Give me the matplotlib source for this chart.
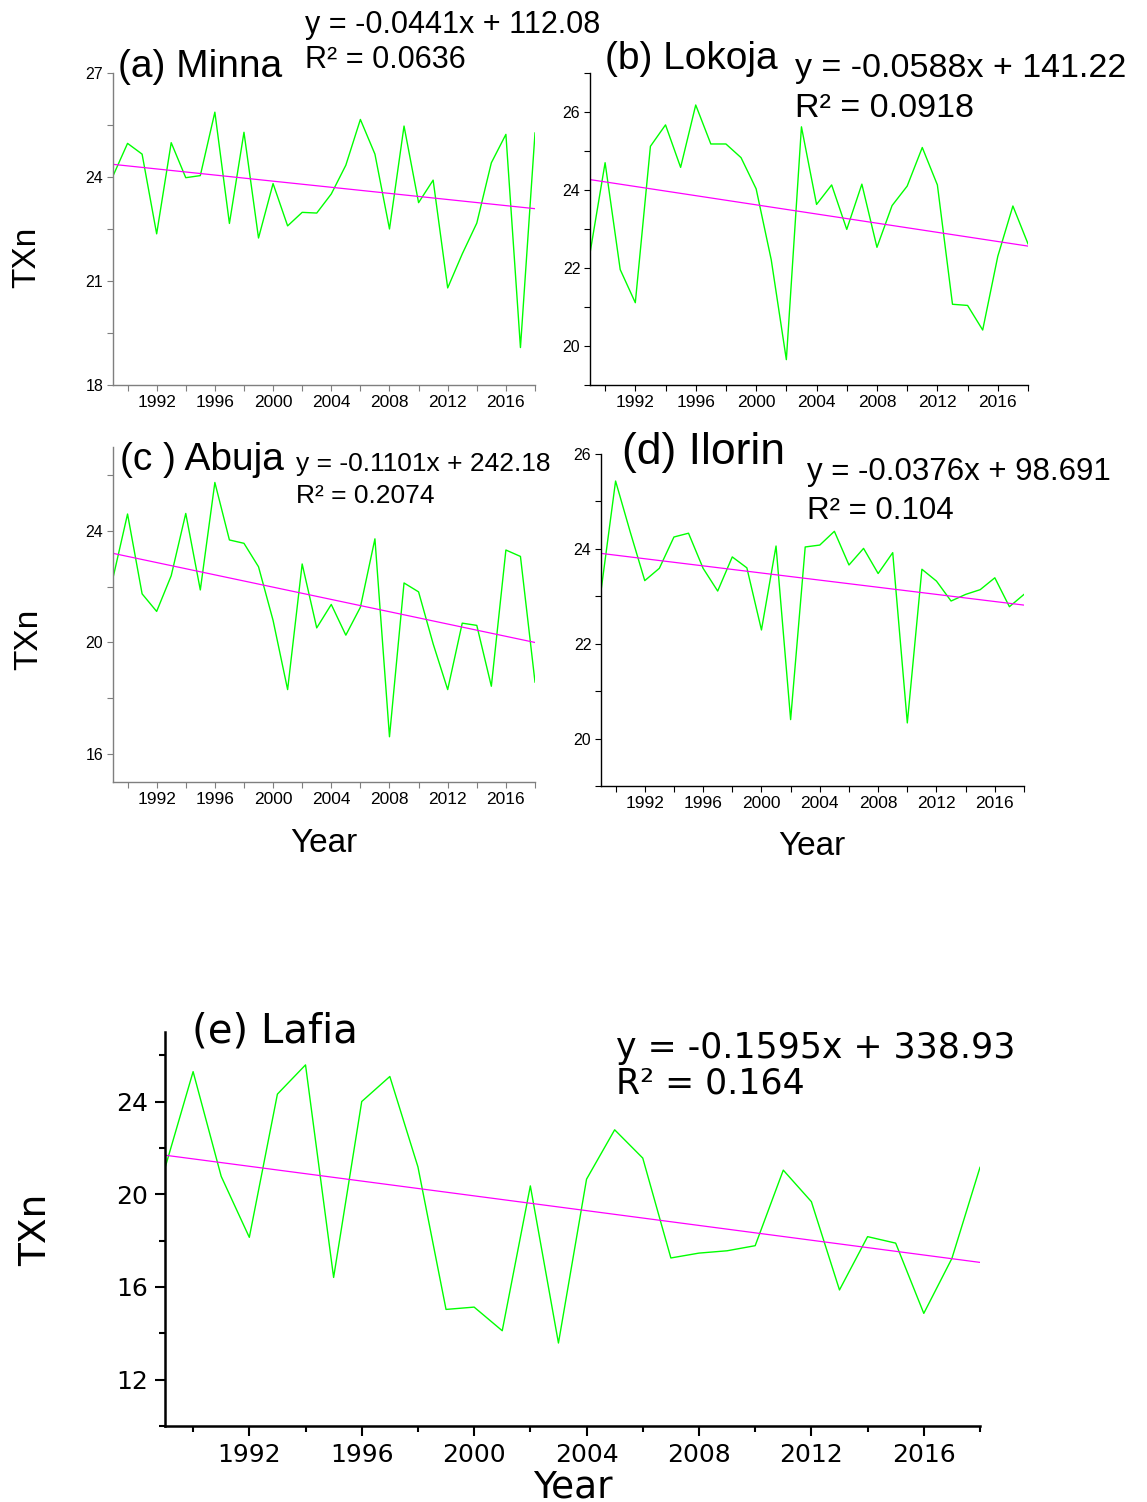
import numpy as np
import matplotlib
matplotlib.use("Agg")
import matplotlib.pyplot as plt
from matplotlib.ticker import MultipleLocator

# Years 1989-2018
years = np.arange(1989, 2019)

# TXn values
minna = [24.03, 24.97, 24.66, 22.36, 24.99, 23.98, 24.04, 25.87, 22.66, 25.29,
         22.24, 23.81, 22.59, 22.98, 22.96, 23.51, 24.34, 25.66, 24.66, 22.50,
         25.47, 23.26, 23.91, 20.80, 21.78, 22.67, 24.41, 25.23, 19.08, 25.27]
lokoja = [22.38, 24.70, 21.96, 21.11, 25.12, 25.67, 24.58, 26.18, 25.18, 25.18,
          24.83, 24.03, 22.21, 19.65, 25.62, 23.63, 24.13, 22.99, 24.15, 22.53,
          23.60, 24.10, 25.09, 24.13, 21.07, 21.04, 20.41, 22.30, 23.59, 22.62]
abuja = [22.31, 24.60, 21.74, 21.11, 22.39, 24.62, 21.88, 25.73, 23.67, 23.55,
         22.71, 20.79, 18.31, 22.81, 20.52, 21.36, 20.26, 21.26, 23.71, 16.62,
         22.13, 21.81, 19.95, 18.31, 20.69, 20.61, 18.43, 23.31, 23.08, 18.58]
ilorin = [23.11, 25.43, 24.36, 23.33, 23.59, 24.25, 24.33, 23.59, 23.11, 23.83,
          23.60, 22.29, 24.06, 20.40, 24.04, 24.08, 24.37, 23.66, 24.01, 23.48,
          23.92, 20.33, 23.57, 23.32, 22.90, 23.04, 23.14, 23.39, 22.78, 23.04]
lafia = [21.13, 25.29, 20.77, 18.14, 24.32, 25.58, 16.41, 24.00, 25.08, 21.18,
         15.03, 15.13, 14.11, 20.36, 13.58, 20.65, 22.78, 21.56, 17.25, 17.46,
         17.56, 17.78, 21.04, 19.68, 15.87, 18.17, 17.89, 14.86, 17.23, 21.16]

# linear trend coefficients as printed on the chart
slopes = [-0.0441, -0.0588, -0.1101, -0.0376, -0.1595]
intercepts = [112.08, 141.22, 242.18, 98.691, 338.93]
r2_text = ["0.0636", "0.0918", "0.2074", "0.104", "0.164"]
titles = ["(a) Minna", "(b) Lokoja", "(c ) Abuja", "(d) Ilorin", "(e) Lafia"]

W, H = 1147, 1502
fig = plt.figure(figsize=(W / 100, H / 100), dpi=100)


def box(l, t, r, b):
    return [l / W, 1 - b / H, (r - l) / W, (b - t) / H]


def ftext(x, y, s, **kw):
    fig.text(x / W, 1 - y / H, s, **kw)


GREEN = "#00ff00"
MAGENTA = "#ff00ff"
ARIAL = "Liberation Sans"
WIDE = "DejaVu Sans"

# panel settings: box, ylim, major step, minor step, spine color
panels = [
    (box(113, 73, 535, 385), minna, (18, 27), 3, 1.5, "#7f7f7f"),
    (box(590, 73, 1028, 385), lokoja, (19, 27), 2, 1, "black"),
    (box(113, 447, 535, 782), abuja, (15, 27), 4, 2, "#7f7f7f"),
    (box(601, 454, 1024, 786), ilorin, (19, 26), 2, 1, "black"),
]

for i, (pos, vals, ylim, major, minor, col) in enumerate(panels):
    ax = fig.add_axes(pos)
    ax.plot(years, vals, color=GREEN, lw=1.0)
    ax.plot(years, slopes[i] * years + intercepts[i], color=MAGENTA, lw=0.9)
    ax.set_xlim(1989, 2018)
    ax.set_ylim(*ylim)
    ax.xaxis.set_minor_locator(MultipleLocator(2))
    ax.set_xticks(np.arange(1992, 2017, 4))
    ax.yaxis.set_major_locator(MultipleLocator(major))
    ax.yaxis.set_minor_locator(MultipleLocator(minor))
    for s in ["top", "right"]:
        ax.spines[s].set_visible(False)
    for s in ["left", "bottom"]:
        ax.spines[s].set_color(col)
        ax.spines[s].set_linewidth(1.0)
    ax.tick_params(which="both", direction="out", length=4, width=0.8, color=col)
    ax.tick_params(axis="x", labelsize=12.5, pad=3)
    ax.tick_params(axis="y", labelsize=11.5, pad=3)
    for lab in ax.get_xticklabels() + ax.get_yticklabels():
        lab.set_family(ARIAL)

# titles and equations, panels a-d
ftext(118, 77, titles[0], fontsize=28, family=ARIAL, va="baseline")
ftext(305, 33, "y = %.4fx + %.2f" % (slopes[0], intercepts[0]), fontsize=22, family=ARIAL, va="baseline")
ftext(305, 68, "R² = " + r2_text[0], fontsize=22, family=ARIAL, va="baseline")

ftext(605, 69, titles[1], fontsize=28, family=ARIAL, va="baseline")
ftext(795, 77, "y = %.4fx + %.2f" % (slopes[1], intercepts[1]), fontsize=24.5, family=ARIAL, va="baseline")
ftext(795, 117, "R² = " + r2_text[1], fontsize=24.5, family=ARIAL, va="baseline")

ftext(120, 470, titles[2], fontsize=28, family=ARIAL, va="baseline")
ftext(296, 471, "y = %.4fx + %.2f" % (slopes[2], intercepts[2]), fontsize=19, family=ARIAL, va="baseline")
ftext(296, 503, "R² = " + r2_text[2], fontsize=19, family=ARIAL, va="baseline")

ftext(622, 464, titles[3], fontsize=32, family=ARIAL, va="baseline")
ftext(807, 480, "y = %.4fx + %.3f" % (slopes[3], intercepts[3]), fontsize=22.5, family=ARIAL, va="baseline")
ftext(807, 519, "R² = " + r2_text[3], fontsize=22.5, family=ARIAL, va="baseline")

ftext(27, 257, "TXn", fontsize=24, family=ARIAL, rotation=90, ha="center", va="center")
ftext(29, 639, "TXn", fontsize=24, family=ARIAL, rotation=90, ha="center", va="center")
ftext(324, 852, "Year", fontsize=24, family=ARIAL, ha="center", va="baseline")
ftext(812, 855, "Year", fontsize=24, family=ARIAL, ha="center", va="baseline")

# panel e
ax = fig.add_axes(box(165, 1032, 980, 1426))
ax.plot(years, lafia, color=GREEN, lw=1.0)
ax.plot(years, slopes[4] * years + intercepts[4], color=MAGENTA, lw=0.9)
ax.set_xlim(1989, 2018)
ax.set_ylim(10, 27)
ax.set_xticks(np.arange(1992, 2017, 4))
ax.xaxis.set_minor_locator(MultipleLocator(2))
ax.set_yticks([12, 16, 20, 24])
ax.yaxis.set_minor_locator(MultipleLocator(2))
for s in ["top", "right"]:
    ax.spines[s].set_visible(False)
for s in ["left", "bottom"]:
    ax.spines[s].set_linewidth(1.8)
ax.tick_params(which="major", direction="out", length=7, width=1.5)
ax.tick_params(which="minor", direction="out", length=4, width=1.5)
ax.tick_params(axis="both", labelsize=18, pad=5)
for lab in ax.get_xticklabels() + ax.get_yticklabels():
    lab.set_family(WIDE)

ftext(192, 1042, titles[4], fontsize=29, family=WIDE, va="baseline")
ftext(616, 1058, "y = %.4fx + %.2f" % (slopes[4], intercepts[4]), fontsize=25, family=WIDE, va="baseline")
ftext(616, 1094, "R² = " + r2_text[4], fontsize=25, family=WIDE, va="baseline")
ftext(36, 1230, "TXn", fontsize=27, family=WIDE, rotation=90, ha="center", va="center")
ftext(573, 1497, "Year", fontsize=27, family=WIDE, ha="center", va="baseline")

fig.savefig("out.png", dpi=100)
